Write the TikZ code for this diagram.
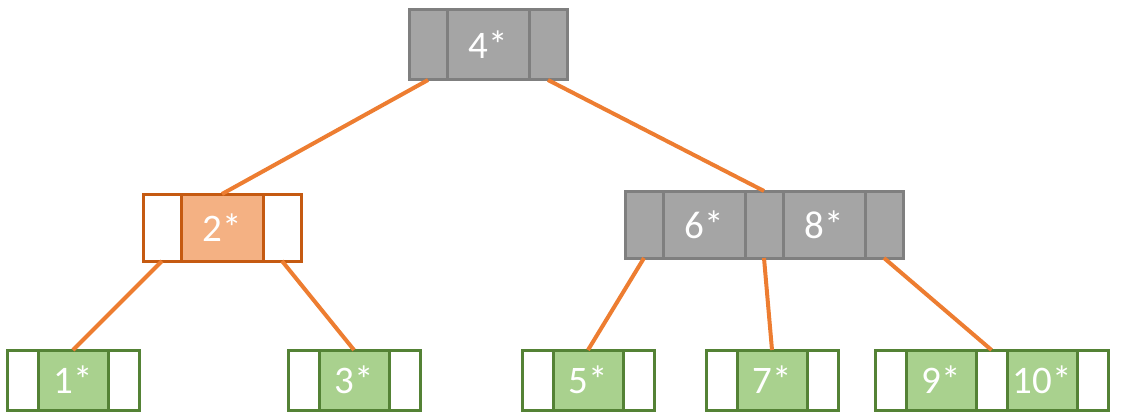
\documentclass[tikz,border=0pt]{standalone}
\usepackage{fontspec}
\setmainfont{Carlito}
\usetikzlibrary{positioning}
\definecolor{gfill}{HTML}{A5A5A5}
\definecolor{gline}{HTML}{7F7F7F}
\definecolor{ofill}{HTML}{F4B183}
\definecolor{oline}{HTML}{C55A11}
\definecolor{lfill}{HTML}{A9D18E}
\definecolor{lline}{HTML}{548235}
\definecolor{edgeor}{HTML}{ED7D31}

\tikzset{
  cellbox/.style={rectangle, inner sep=0pt, outer sep=0pt, line width=3pt,
    text=white, font=\fontsize{39}{42}\selectfont},
  innerbox/.style={cellbox, draw=gline, fill=gfill, minimum height=70pt},
  halfbox/.style={cellbox, draw=oline, minimum height=67pt},
  leafbox/.style={cellbox, draw=lline, minimum height=60pt},
  ptrcell/.style={minimum width=38pt},
  keycell/.style={minimum width=82pt},
  lptr/.style={minimum width=31pt},
  lkey/.style={minimum width=70pt},
  edge/.style={draw=edgeor, line width=4pt}
}

\begin{document}
\begin{tikzpicture}[x=1pt, y=-1pt]
  \useasboundingbox (0,0) rectangle (1125,420);

  % root
  \node[innerbox, ptrcell, anchor=north west] (r0) at (409,10) {};
  \node[innerbox, keycell, right=0pt of r0] (r1) {4*};
  \node[innerbox, ptrcell, right=0pt of r1] (r2) {};

  % left inner node
  \node[halfbox, ptrcell, fill=white, anchor=north west] (a0) at (143,194) {};
  \node[halfbox, keycell, fill=ofill, right=0pt of a0] (a1) {2*};
  \node[halfbox, ptrcell, fill=white, right=0pt of a1] (a2) {};

  % right inner node
  \node[innerbox, ptrcell, minimum height=67pt, anchor=north west] (b0) at (625,191) {};
  \node[innerbox, keycell, minimum height=67pt, right=0pt of b0] (b1) {6*};
  \node[innerbox, ptrcell, minimum height=67pt, right=0pt of b1] (b2) {};
  \node[innerbox, keycell, minimum height=67pt, right=0pt of b2] (b3) {8*};
  \node[innerbox, ptrcell, minimum height=67pt, right=0pt of b3] (b4) {};

  % leaves
  \foreach \name/\xx/\key in {l1/7/1*, l3/288/3*, l5/522/5*, l7/706/7*} {
    \node[leafbox, lptr, fill=white, anchor=north west] (\name a) at (\xx,350) {};
    \node[leafbox, lkey, fill=lfill, right=0pt of \name a] (\name b) {\key};
    \node[leafbox, lptr, fill=white, right=0pt of \name b] (\name c) {};
  }
  \node[leafbox, lptr, fill=white, anchor=north west] (l9a) at (875,350) {};
  \node[leafbox, lkey, fill=lfill, right=0pt of l9a] (l9b) {9*};
  \node[leafbox, lptr, fill=white, right=0pt of l9b] (l9c) {};
  \node[leafbox, lkey, fill=lfill, right=0pt of l9c] (l9d) {10*};
  \node[leafbox, lptr, fill=white, right=0pt of l9d] (l9e) {};

  % connectors
  \draw[edge] (r0.south) -- (a1.north);
  \draw[edge] (r2.south) -- (b2.north);
  \draw[edge] (a0.south) -- (l1b.north);
  \draw[edge] (a2.south) -- (l3b.north);
  \draw[edge] (b0.south) -- (l5b.north);
  \draw[edge] (b2.south) -- (l7b.north);
  \draw[edge] (b4.south) -- (l9c.north);
\end{tikzpicture}
\end{document}
